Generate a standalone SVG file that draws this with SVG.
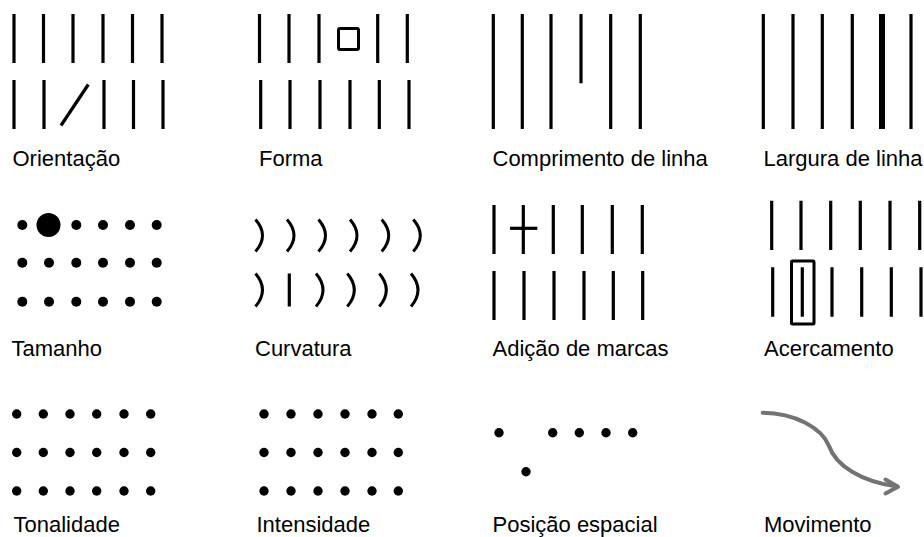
<svg xmlns="http://www.w3.org/2000/svg" width="924" height="537" viewBox="0 0 924 537">
<style>
.ln{stroke:#000;stroke-width:3.2;fill:none}
.bx{stroke:#000;stroke-width:3;fill:none}
.arc{stroke:#000;stroke-width:3;fill:none}
.dt{fill:#000}
.lb{font-family:"Liberation Sans",Arial,Helvetica,sans-serif;font-size:22px;fill:#000}
.mv{stroke:#737373;stroke-width:4;fill:none;stroke-linecap:round;stroke-linejoin:round}
</style>
<rect width="924" height="537" fill="#fff"/>

<g id="orientacao">
  <path class="ln" d="M14,14V63M43.5,14V63M73,14V63M103,14V63M132.5,14V63M162,14V63"/>
  <path class="ln" d="M14,80V129M44,80V129M104,80V129M133.5,80V129M163,80V129"/>
  <path class="ln" d="M61,125.5L88.3,84.5"/>
  <text class="lb" x="12.5" y="166">Orientação</text>
</g>

<g id="forma">
  <path class="ln" d="M259.5,14V63M289,14V63M319,14V63M377.7,14V63M407.3,14V63"/>
  <rect class="bx" x="338.5" y="28.5" width="20" height="21" rx="1.5"/>
  <path class="ln" d="M260.7,80V129M290,80V129M320,80V129M350,80V129M379.3,80V129M409,80V129"/>
  <text class="lb" x="259" y="166">Forma</text>
</g>

<g id="comprimento">
  <path class="ln" d="M493.3,14V129M522.3,14V129M551,14V129M610.7,14V129M640.3,14V129"/>
  <path class="ln" d="M581,14V83.3"/>
  <text class="lb" x="492.5" y="166">Comprimento de linha</text>
</g>

<g id="largura">
  <path class="ln" d="M763.3,14V129M793,14V129M822.3,14V129M852.3,14V129M911,14V129"/>
  <path class="ln" style="stroke-width:6" d="M882,14V129"/>
  <text class="lb" x="763.5" y="166">Largura de linha</text>
</g>

<g id="tamanho">
  <circle class="dt" cx="22.3" cy="225" r="5"/>
  <circle class="dt" cx="48.5" cy="225" r="12"/>
  <circle class="dt" cx="76.3" cy="225" r="5"/>
  <circle class="dt" cx="103" cy="225" r="5"/>
  <circle class="dt" cx="130" cy="225" r="5"/>
  <circle class="dt" cx="156.7" cy="225" r="5"/>
  <circle class="dt" cx="22.3" cy="262.7" r="5"/>
  <circle class="dt" cx="49" cy="262.7" r="5"/>
  <circle class="dt" cx="76.3" cy="262.7" r="5"/>
  <circle class="dt" cx="103" cy="262.7" r="5"/>
  <circle class="dt" cx="130" cy="262.7" r="5"/>
  <circle class="dt" cx="156.7" cy="262.7" r="5"/>
  <circle class="dt" cx="22.3" cy="301.7" r="5"/>
  <circle class="dt" cx="49" cy="301.7" r="5"/>
  <circle class="dt" cx="76.3" cy="301.7" r="5"/>
  <circle class="dt" cx="103" cy="301.7" r="5"/>
  <circle class="dt" cx="130" cy="301.7" r="5"/>
  <circle class="dt" cx="156.7" cy="301.7" r="5"/>
  <text class="lb" x="11.5" y="356">Tamanho</text>
</g>

<g id="curvatura">
  <path class="arc" d="M255.5,219.5Q269.5,235.5 255.5,251.5M287,219.5Q301,235.5 287,251.5M318.5,219.5Q332.5,235.5 318.5,251.5M350,219.5Q364,235.5 350,251.5M381.7,219.5Q395.7,235.5 381.7,251.5M413.3,219.5Q427.3,235.5 413.3,251.5"/>
  <path class="arc" d="M255.5,273.5Q269.5,290 255.5,306.5M316,273.5Q330,290 316,306.5M347.3,273.5Q361.3,290 347.3,306.5M379.3,273.5Q393.3,290 379.3,306.5M411,273.5Q425,290 411,306.5"/>
  <path class="ln" d="M289.3,273.5V306.5"/>
  <text class="lb" x="255" y="356">Curvatura</text>
</g>

<g id="adicao">
  <path class="ln" d="M494,205V254M523.3,205V254M553.3,205V254M582.3,205V254M612.3,205V254M642.3,205V254"/>
  <path class="ln" d="M510,228.3H537.3"/>
  <path class="ln" d="M494,271V320M524,271V320M554,271V320M584,271V320M613.3,271V320M642.7,271V320"/>
  <text class="lb" x="492.5" y="356">Adição de marcas</text>
</g>

<g id="acercamento">
  <path class="ln" d="M771.7,200.7V250M801,200.7V250M830.7,200.7V250M860.3,200.7V250M890,200.7V250M919.7,200.7V250"/>
  <path class="ln" d="M772.7,267.3V316.7M802.3,267.3V316.7M832,267.3V316.7M861.7,267.3V316.7M891.3,267.3V316.7M921,267.3V316.7"/>
  <rect class="bx" x="791.5" y="261" width="22.5" height="63" rx="1"/>
  <text class="lb" x="764" y="356">Acercamento</text>
</g>

<g id="tonalidade">
  <circle class="dt" cx="16.7" cy="414" r="4.7"/>
  <circle class="dt" cx="43.3" cy="414" r="4.7"/>
  <circle class="dt" cx="70" cy="414" r="4.7"/>
  <circle class="dt" cx="96.7" cy="414" r="4.7"/>
  <circle class="dt" cx="124" cy="414" r="4.7"/>
  <circle class="dt" cx="150.7" cy="414" r="4.7"/>
  <circle class="dt" cx="16.7" cy="452.5" r="4.7"/>
  <circle class="dt" cx="43.3" cy="452.5" r="4.7"/>
  <circle class="dt" cx="70" cy="452.5" r="4.7"/>
  <circle class="dt" cx="96.7" cy="452.5" r="4.7"/>
  <circle class="dt" cx="124" cy="452.5" r="4.7"/>
  <circle class="dt" cx="150.7" cy="452.5" r="4.7"/>
  <circle class="dt" cx="16.7" cy="491" r="4.7"/>
  <circle class="dt" cx="43.3" cy="491" r="4.7"/>
  <circle class="dt" cx="70" cy="491" r="4.7"/>
  <circle class="dt" cx="96.7" cy="491" r="4.7"/>
  <circle class="dt" cx="124" cy="491" r="4.7"/>
  <circle class="dt" cx="150.7" cy="491" r="4.7"/>
  <text class="lb" x="13.5" y="531.5">Tonalidade</text>
</g>

<g id="intensidade">
  <circle class="dt" cx="264" cy="414" r="4.7"/>
  <circle class="dt" cx="291" cy="414" r="4.7"/>
  <circle class="dt" cx="318" cy="414" r="4.7"/>
  <circle class="dt" cx="345" cy="414" r="4.7"/>
  <circle class="dt" cx="372" cy="414" r="4.7"/>
  <circle class="dt" cx="398.3" cy="414" r="4.7"/>
  <circle class="dt" cx="264" cy="452.5" r="4.7"/>
  <circle class="dt" cx="291" cy="452.5" r="4.7"/>
  <circle class="dt" cx="318" cy="452.5" r="4.7"/>
  <circle class="dt" cx="345" cy="452.5" r="4.7"/>
  <circle class="dt" cx="372" cy="452.5" r="4.7"/>
  <circle class="dt" cx="398.3" cy="452.5" r="4.7"/>
  <circle class="dt" cx="264" cy="491" r="4.7"/>
  <circle class="dt" cx="291" cy="491" r="4.7"/>
  <circle class="dt" cx="318" cy="491" r="4.7"/>
  <circle class="dt" cx="345" cy="491" r="4.7"/>
  <circle class="dt" cx="372" cy="491" r="4.7"/>
  <circle class="dt" cx="398.3" cy="491" r="4.7"/>
  <text class="lb" x="256.5" y="531.5">Intensidade</text>
</g>

<g id="posicao">
  <circle class="dt" cx="499" cy="432.7" r="4.7"/>
  <circle class="dt" cx="552.7" cy="432.7" r="4.7"/>
  <circle class="dt" cx="579.3" cy="432.7" r="4.7"/>
  <circle class="dt" cx="606" cy="432.7" r="4.7"/>
  <circle class="dt" cx="632.7" cy="432.7" r="4.7"/>
  <circle class="dt" cx="526" cy="471.7" r="4.7"/>
  <text class="lb" x="492.5" y="531.5">Posição espacial</text>
</g>

<g id="movimento">
  <path class="mv" d="M762.7,412.7C795,413 822,428 829,446C836,466 862,482 897,486.5"/>
  <path class="mv" d="M885.5,479.5L898,486.7L885.5,493.5"/>
  <text class="lb" x="764" y="531.5">Movimento</text>
</g>
</svg>
